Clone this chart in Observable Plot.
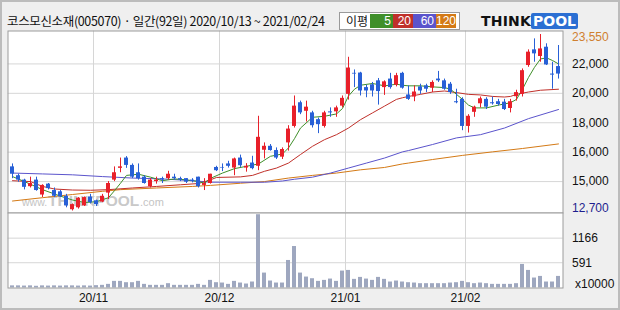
<!DOCTYPE html>
<html>
<head>
<meta charset="utf-8">
<script src="https://cdn.jsdelivr.net/npm/d3@7"></script>
<script src="https://cdn.jsdelivr.net/npm/@observablehq/plot@0.6"></script>
<style>
  body { margin: 0; background: #ffffff; }
  #wrap { position: relative; width: 620px; height: 310px; background: #efefef; overflow: hidden;
          box-shadow: inset 0 0 0 2px #bcbcbc; font-family: "Liberation Sans", Arial, sans-serif; }
  #title { position: absolute; left: 7px; top: 12px; font-family: "Noto Sans CJK KR", sans-serif; font-size: 12.5px;
           line-height: 18px; color: #111; white-space: nowrap; letter-spacing: -0.35px; }
  #legend { position: absolute; left: 339px; top: 12px; width: 119px; height: 16px; border: 1px solid #9a9a9a;
            background: #fff; font-size: 12px; line-height: 14px; white-space: nowrap; }
  #legend .lbl { position: absolute; left: 6px; top: 1px; font-family: "Noto Sans CJK KR", sans-serif; font-size: 12px; color: #111; }
  #legend .sw { position: absolute; top: 1px; height: 14px; color: #fff; text-align: right; box-sizing: border-box; padding-right: 2px; }
  #logo { position: absolute; left: 481px; top: 14px; height: 15px; white-space: nowrap; font-family: "DejaVu Sans", sans-serif;
          font-weight: bold; font-size: 14px; line-height: 15px; }
  #logo .think { color: #111; letter-spacing: 0.2px; }
  #logo .pool { color: #fff; background: #2b6fd3; padding: 0 2px; border-radius: 2px; }
  #price { position: absolute; left: 0; top: 30px; }
  #vol { position: absolute; left: 0; top: 212px; }
</style>
</head>
<body>
<div id="wrap">
  <div id="title"></div>
  <div id="legend"></div>
  <div id="logo"><span class="think">THINK</span><span class="pool">POOL</span></div>
  <div id="price"></div>
  <div id="vol"></div>
</div>
<script>
// ---------- data ----------
const titleText = "코스모신소재(005070) · 일간(92일) 2020/10/13 ~ 2021/02/24";
const legendLabel = "이평";
const maPeriods = ["5", "20", "60", "120"];
const maColors = ["#3f8f2a", "#c0302a", "#5b54cc", "#d47a16"];

const dates = [
  "2020-10-13","2020-10-14","2020-10-15","2020-10-16","2020-10-19","2020-10-20","2020-10-21","2020-10-22","2020-10-23","2020-10-26","2020-10-27","2020-10-28","2020-10-29","2020-10-30",
  "2020-11-02","2020-11-03","2020-11-04","2020-11-05","2020-11-06","2020-11-09","2020-11-10","2020-11-11","2020-11-12","2020-11-13","2020-11-16","2020-11-17","2020-11-18","2020-11-19","2020-11-20","2020-11-23","2020-11-24","2020-11-25","2020-11-26","2020-11-27","2020-11-30",
  "2020-12-01","2020-12-02","2020-12-03","2020-12-04","2020-12-07","2020-12-08","2020-12-09","2020-12-10","2020-12-11","2020-12-14","2020-12-15","2020-12-16","2020-12-17","2020-12-18","2020-12-21","2020-12-22","2020-12-23","2020-12-24","2020-12-28","2020-12-29","2020-12-30",
  "2021-01-04","2021-01-05","2021-01-06","2021-01-07","2021-01-08","2021-01-11","2021-01-12","2021-01-13","2021-01-14","2021-01-15","2021-01-18","2021-01-19","2021-01-20","2021-01-21","2021-01-22","2021-01-25","2021-01-26","2021-01-27","2021-01-28","2021-01-29",
  "2021-02-01","2021-02-02","2021-02-03","2021-02-04","2021-02-05","2021-02-08","2021-02-09","2021-02-10","2021-02-15","2021-02-16","2021-02-17","2021-02-18","2021-02-19","2021-02-22","2021-02-23","2021-02-24"
];

const open  = [15500,15200,15050,14600,15050,13950,14800,14300,14200,13850,12800,12950,13100,13800,13500,13400,14100,15050,15450,15800,
               15550,15300,15150,14600,15000,15100,15100,15150,15100,15100,15050,15150,14700,14850,15480,15480,15600,15460,15800,15460,
               15630,15520,16130,16400,16110,15830,16630,17750,19360,18780,18670,18210,17750,18740,18740,19130,19930,21360,21380,20390,
               20580,20850,20390,20970,20550,21360,19890,19750,20440,20510,20350,20970,20850,20620,19430,19590,17750,18710,19290,19590,
               19360,19430,19400,18970,19770,19930,21890,22740,22390,22880,21310,21820];
const high  = [15600,15250,15080,15150,15150,14750,14850,14500,14300,14000,13250,13750,13800,14000,13550,14000,15000,15500,15800,15850,
               15600,15600,15200,15100,15150,15150,15350,15250,15150,15100,15100,15150,15100,15250,15520,15600,15690,15800,15900,15610,
               15860,18440,16630,16520,16290,16290,17800,19820,19470,19470,18780,18320,18780,19010,19130,19820,22350,21590,21430,20550,
               20740,21010,20850,21360,21360,21430,20510,20510,20620,20620,20850,21490,20970,20740,20280,19700,18550,19130,19750,19700,
               19750,19590,19590,19590,20210,21660,22740,23320,23550,23060,22090,22970];
const low   = [15100,14950,14350,14500,14250,13750,14350,13750,13750,12950,12700,12850,13050,13250,13050,13350,13600,15000,15300,15450,
               15100,15050,14800,14500,14800,14850,15050,15050,15000,14850,14900,14500,14300,14800,15340,15340,15460,15200,15480,15320,
               15400,15370,15770,16070,15750,15750,16070,17640,18550,18050,17640,17260,17640,18370,18370,19010,19540,20390,19820,19700,
               19750,19200,19860,20280,20440,20280,19520,19430,19930,20050,20050,20740,20210,19930,19290,17460,17300,18370,19010,18900,
               19200,19130,18830,18670,19470,19750,21770,22090,22090,21890,20280,20970];
const close = [15250,15050,14550,14850,14300,14700,14450,13850,13800,13100,13200,13700,13750,13350,13200,13850,14850,15300,15500,15550,
               15150,15100,14850,15050,15050,15050,15250,15100,15050,14950,15000,14600,14850,15250,15370,15460,15520,15770,15540,15520,
               15440,17010,16400,16110,15800,16180,17570,19130,18670,19060,17800,17870,18670,18670,19010,19660,21720,21310,20160,20160,
               20160,20120,20780,20390,21200,20350,19590,20090,20160,20280,20740,20850,20280,20050,19360,17750,18440,19060,19630,19060,
               19290,19240,18900,19430,20050,21540,22620,22530,22790,21930,21240,21310];
// volume, unit x10000 shares
const volume = [50,50,45,50,40,50,45,50,45,50,50,45,50,45,55,
                62,85,155,155,124,124,155,85,62,62,62,101,62,62,62,
                62,85,62,178,124,116,85,155,116,93,140,1714,349,163,116,116,644,970,349,256,
                217,155,178,209,155,396,411,202,248,209,178,248,202,140,163,140,124,116,101,101,
                101,101,101,116,124,155,124,101,116,101,85,85,85,85,101,551,411,233,271,140,140,271];

// moving averages: [day index, value]
const ma5 = [[0,15170],[2,15000],[5,14370],[8,13860],[10,13560],[12,13360],[14,13430],[16,13740],[17,14290],[18,14870],[19,15210],[21,15250],[23,15150],[25,15030],[27,15090],[29,15060],[31,15000],[32,14870],[33,15110],[35,15290],[37,15440],[39,15520],[41,15600],[43,15860],[45,15940],[46,16290],[47,16920],[48,17640],[50,18370],[52,18440],[54,18600],[55,18970],[56,19820],[57,20280],[58,20550],[60,20670],[62,20510],[64,20620],[65,20550],[66,20510],[68,20510],[70,20440],[72,20390],[73,20280],[74,19930],[75,19590],[76,19200],[77,19010],[79,19010],[81,19200],[83,19360],[84,19590],[85,20280],[86,21080],[87,21770],[88,22260],[89,22320],[90,22180],[91,22000]];
const ma20 = [[0,15030],[3,15000],[5,14620],[7,14420],[10,14340],[13,14320],[16,14370],[20,14500],[24,14620],[28,14750],[31,14850],[33,15060],[34,15140],[38,15160],[40,15210],[42,15350],[44,15460],[46,15630],[48,15920],[50,16400],[52,16850],[54,17190],[56,17640],[58,18210],[60,18670],[62,19130],[64,19590],[65,19700],[66,19790],[68,19930],[70,20090],[72,20160],[74,20050],[76,19930],[78,19890],[80,19790],[82,19750],[83,19790],[84,19930],[86,20090],[88,20210],[91,20280]];
const ma60 = [[0,15290],[5,15260],[10,15230],[15,15170],[20,15120],[25,15090],[30,15030],[33,14950],[38,14950],[42,14950],[45,15020],[47,15080],[50,15150],[53,15290],[56,15460],[59,15630],[62,15800],[65,16020],[66,16110],[70,16520],[74,16970],[78,17190],[82,17640],[86,18280],[91,18900]];
const ma120 = [[0,13480],[5,13740],[10,13990],[15,14240],[18,14370],[24,14500],[30,14620],[33,14700],[38,14870],[42,15000],[46,15120],[50,15210],[54,15290],[58,15400],[62,15480],[65,15600],[66,15630],[70,15750],[75,15890],[80,16020],[85,16250],[91,16560]];

// the price axis of the reference is piecewise: its labelled levels are evenly spaced
const priceBreaks = [12700, 15000, 16000, 18000, 20000, 22000, 23550];
const priceTicks = [15000, 16000, 18000, 20000, 22000];
const priceHigh = 23550, priceLow = 12700;
const volTicks = [591, 1166];
const volUnit = "x10000";
const monthStarts = ["2020-11-02", "2020-12-01", "2021-01-04", "2021-02-01"];
const monthLabels = ["20/11", "20/12", "21/01", "21/02"];
const watermark = ["www.", "THINKPOOL", ".com"];

// ---------- header ----------
document.getElementById("title").textContent = titleText;
const legend = document.getElementById("legend");
legend.innerHTML = `<span class="lbl">${legendLabel}</span>`;
const swLeft = [30, 53, 73, 96], swWidth = [23, 20, 23, 20];
maPeriods.forEach((p, k) => {
  const s = document.createElement("span");
  s.className = "sw";
  s.style.left = swLeft[k] + "px";
  s.style.width = swWidth[k] + "px";
  s.style.background = maColors[k];
  s.textContent = p;
  legend.appendChild(s);
});

// ---------- charts ----------
const idx = d3.range(dates.length);
const RED = "#e8202a", BLUE = "#2860d6";
const col = i => close[i] >= open[i] ? RED : BLUE;
const xScale = {type: "band", domain: dates, range: [8, 562], paddingInner: 0.3, paddingOuter: 0.15, axis: null};
const fontStyle = {background: "transparent", fontSize: "12px", fontFamily: "'Liberation Sans', Arial, sans-serif", color: "#111", overflow: "visible"};
const maLine = (data, k) => Plot.line(data, {x: d => dates[d[0]], y: d => d[1], stroke: maColors[k], strokeWidth: 1});

// piecewise price -> level transform (each labelled level one unit apart)
const level = d3.scaleLinear().domain(priceBreaks).range(d3.range(priceBreaks.length));
const fmt = d3.format(",");

const price = Plot.plot({
  width: 620, height: 183,
  marginLeft: 7.5, marginRight: 57.5, marginTop: 0.5, marginBottom: 0.5,
  style: fontStyle,
  x: xScale,
  y: {transform: level, domain: [0, priceBreaks.length - 1], range: [180.5, 4], axis: "right",
      ticks: priceTicks.map(level), tickFormat: v => fmt(Math.round(level.invert(v))), tickSize: 0, tickPadding: 9, label: null},
  marks: [
    Plot.frame({fill: "#ffffff", stroke: "none"}),
    Plot.ruleY(priceTicks, {stroke: "#d6d6d6"}),
    Plot.ruleX(monthStarts, {stroke: "#d6d6d6", dx: -3}),
    Plot.text([watermark[0]], {frameAnchor: "bottom-left", dx: 14, dy: -7, textAnchor: "start", fill: "#c4c4c4", fontSize: 10.5}),
    Plot.text([watermark[1]], {frameAnchor: "bottom-left", dx: 40, dy: -7, textAnchor: "start", fill: "#c9c9c9", fontSize: 15.5, fontWeight: "bold"}),
    Plot.text([watermark[2]], {frameAnchor: "bottom-left", dx: 132, dy: -7, textAnchor: "start", fill: "#c4c4c4", fontSize: 11}),
    maLine(ma120, 3),
    maLine(ma60, 2),
    maLine(ma20, 1),
    maLine(ma5, 0),
    Plot.ruleX(idx, {x: i => dates[i], y1: i => low[i], y2: i => high[i], stroke: col}),
    Plot.barY(idx, {x: i => dates[i], y1: i => Math.min(open[i], close[i]), y2: i => Math.max(open[i], close[i]), fill: col}),
    Plot.text([priceHigh], {y: d => d, frameAnchor: "right", dx: 9, dy: 3, textAnchor: "start", text: d => fmt(d), fill: "#cf7f30"}),
    Plot.text([priceLow], {y: d => d, frameAnchor: "right", dx: 9, dy: -3, textAnchor: "start", text: d => fmt(d), fill: "#1e1e8e"}),
    Plot.frame({stroke: "#9c9c9c"})
  ]
});
document.getElementById("price").appendChild(price);

const vol = Plot.plot({
  width: 620, height: 98,
  marginLeft: 7.5, marginRight: 57.5, marginTop: 0.5, marginBottom: 22.5,
  style: fontStyle,
  x: xScale,
  y: {domain: [0, 1754], axis: "right", ticks: volTicks, tickFormat: d => String(d), tickSize: 0, tickPadding: 9, label: null},
  marks: [
    Plot.frame({fill: "#ffffff", stroke: "none"}),
    Plot.ruleY(volTicks, {stroke: "#d6d6d6"}),
    Plot.ruleX(monthStarts, {stroke: "#d6d6d6", dx: -3}),
    Plot.barY(idx, {x: i => dates[i], y: i => volume[i], fill: "#9ea7bf"}),
    Plot.text(monthStarts, {x: d => d, text: (d, i) => monthLabels[i], frameAnchor: "bottom", dx: -3, dy: 14, fill: "#111"}),
    Plot.text([volUnit], {frameAnchor: "bottom-right", dx: 12, dy: 0, textAnchor: "start", fill: "#111"}),
    Plot.frame({stroke: "#9c9c9c"})
  ]
});
document.getElementById("vol").appendChild(vol);
</script>
</body>
</html>
